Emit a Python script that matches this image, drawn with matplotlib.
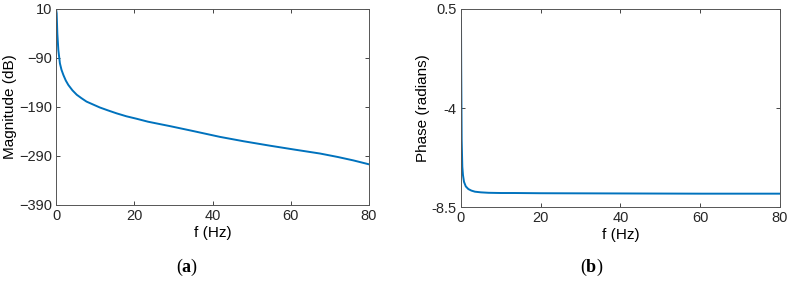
import numpy as np
import matplotlib.pyplot as plt

plt.rcParams['font.family'] = ['Liberation Sans', 'DejaVu Sans']
plt.rcParams['mathtext.fontset'] = 'custom'
plt.rcParams['mathtext.bf'] = 'Liberation Serif:bold'
plt.rcParams['mathtext.rm'] = 'Liberation Serif'

# magnitude response (a)
f_mag = [0.05, 0.17, 0.34, 0.6, 1.0, 1.4, 1.9, 2.5, 3.15, 4.2, 5.3, 6.5, 7.8, 9.5, 11.2,
         13.3, 15.5, 18.0, 20.6, 23.5, 26.6, 29.1, 35.0, 41.9, 48.0, 54.7, 61.0, 67.5,
         72.0, 76.0, 80.0]
mag_db = [8, 1, -40, -74, -101, -114, -125, -136, -145, -156, -165, -172, -179, -185, -191,
          -197, -203, -209, -214, -220, -225, -229, -239, -251, -260, -269, -277, -285,
          -292, -299, -307]

# phase response (b)
f_ph = [0.0, 0.05, 0.17, 0.33, 0.5, 0.75, 1.2, 1.84, 2.6, 3.5, 5.0, 6.9, 10.0, 13.5,
        20.0, 40.0, 60.0, 80.0]
phase = [0.08, -2.1, -5.45, -6.67, -7.05, -7.35, -7.56, -7.68, -7.75, -7.80, -7.83, -7.85,
         -7.86, -7.86, -7.87, -7.88, -7.89, -7.89]

blue = '#0072BD'
axcol = '#262626'

fig = plt.figure(figsize=(7.91, 2.81), dpi=100)
ax1 = fig.add_axes([0.0708, 0.2705, 0.3957, 0.6975])
ax2 = fig.add_axes([0.5828, 0.263, 0.4033, 0.705])

ax1.plot(f_mag, mag_db, color=blue, lw=1.4)
ax1.set_xlim(0, 80)
ax1.set_ylim(-390, 10)
ax1.set_yticks([-390, -290, -190, -90, 10])
ax1.set_xticks([0, 20, 40, 60, 80])
ax1.set_xlabel('f (Hz)', fontsize=11, labelpad=2)
ax1.set_ylabel('Magnitude (dB)', fontsize=11, labelpad=1)

ax2.plot(f_ph, phase, color=blue, lw=1.4)
ax2.set_xlim(0, 80)
ax2.set_ylim(-8.5, 0.5)
ax2.set_yticks([-8.5, -4, 0.5])
ax2.set_yticklabels(['-8.5', '-4', '0.5'])
ax2.set_xticks([0, 20, 40, 60, 80])
ax2.set_xlabel('f (Hz)', fontsize=11, labelpad=2)
ax2.set_ylabel('Phase (radians)', fontsize=11, labelpad=1)

for ax in (ax1, ax2):
    ax.tick_params(direction='in', top=True, right=True, length=3, width=0.6,
                   labelsize=10.5, colors=axcol, pad=3)
    for s in ax.spines.values():
        s.set_color('#555555')
        s.set_linewidth(0.7)

fig.text(0.237, 0.05, r'($\mathbf{a}$)', fontsize=13, ha='center', va='center',
         family='Liberation Serif')
fig.text(0.748, 0.05, r'($\mathbf{b}$)', fontsize=13, ha='center', va='center',
         family='Liberation Serif')

fig.savefig('out.png', dpi=100)
